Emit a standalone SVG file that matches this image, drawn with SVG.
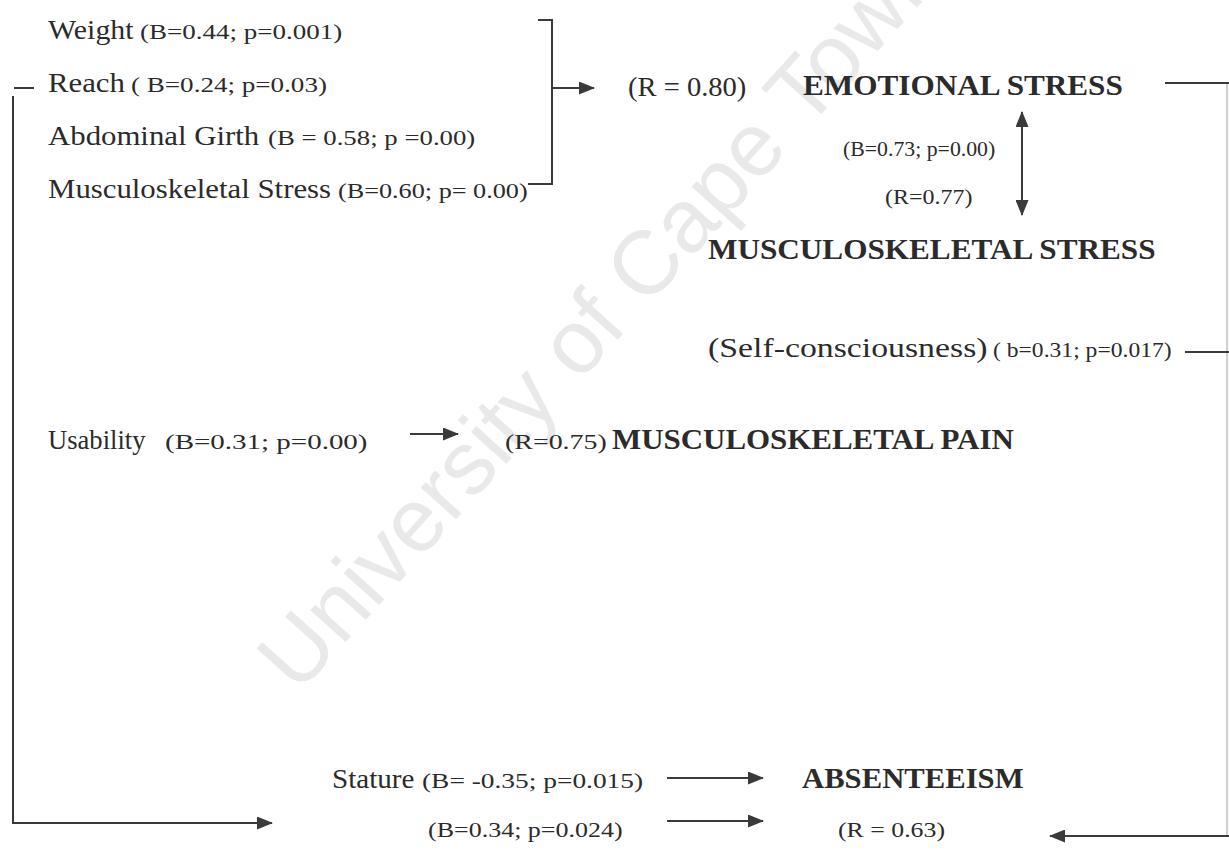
<svg xmlns="http://www.w3.org/2000/svg" width="1229" height="850" viewBox="0 0 1229 850">
<style>
text{font-family:"Liberation Serif","Times New Roman",serif;fill:#2b2b2b}
.m{font-size:28px}
.s{font-size:21px}
.h{font-size:29px;font-weight:bold}
.wm{font-family:"Liberation Sans",Arial,sans-serif;font-size:90px;fill:#e9e9e9}
.ln{fill:none;stroke:#3a3a3a;stroke-width:2}
.fl{fill:none;stroke:#cfcfcf;stroke-width:2}
</style>
<defs>
<marker id="ah" viewBox="0 0 16 13" refX="15" refY="6.5" markerWidth="16" markerHeight="13" markerUnits="userSpaceOnUse" orient="auto-start-reverse">
<path d="M0,0 L16,6.5 L0,13 Z" fill="#3a3a3a"/>
</marker>
</defs>
<rect width="1229" height="850" fill="#ffffff"/>
<text class="wm" x="298" y="695" transform="rotate(-48 298 695)">University of Cape Town</text>

<g id="connectors">
<path class="ln" d="M538,20 H552 V184 H528"/>
<path class="ln" d="M552,88 H594" marker-end="url(#ah)"/>
<path class="ln" d="M1165,83 H1229"/>
<path class="fl" d="M1227,84 V836"/>
<path class="ln" d="M1022,112 V215" marker-start="url(#ah)" marker-end="url(#ah)"/>
<path class="ln" d="M1185,352 H1229"/>
<path class="ln" d="M410,434 H458" marker-end="url(#ah)"/>
<path class="ln" d="M14,88 H34"/>
<path class="ln" d="M13,96 V823 H272" marker-end="url(#ah)"/>
<path class="ln" d="M667,778 H763" marker-end="url(#ah)"/>
<path class="ln" d="M667,821 H763" marker-end="url(#ah)"/>
<path class="ln" d="M1229,836 H1050" marker-end="url(#ah)"/>
</g>

<g id="predictors-emotional">
<text class="m" transform="matrix(1.068 0 0 1 48 39)">Weight</text>
<text class="s" transform="matrix(1.286 0 0 1 140 39)">(B=0.44; p=0.001)</text>
<text class="m" transform="matrix(1.1 0 0 1 48 92)">Reach</text>
<text class="s" transform="matrix(1.29 0 0 1 131 92)">( B=0.24; p=0.03)</text>
<text class="m" transform="matrix(1.1 0 0 1 48 145)">Abdominal Girth</text>
<text class="s" transform="matrix(1.276 0 0 1 268 145)">(B = 0.58; p =0.00)</text>
<text class="m" transform="matrix(1.1 0 0 1 48 198)">Musculoskeletal Stress</text>
<text class="s" transform="matrix(1.248 0 0 1 338 198)">(B=0.60; p= 0.00)</text>
</g>

<g id="emotional-stress">
<text class="m" transform="matrix(1.02 0 0 1 628 96)">(R = 0.80)</text>
<text class="h" transform="matrix(1.076 0 0 1 803 95)">EMOTIONAL STRESS</text>
</g>

<g id="emotional-musculo-link">
<text class="s" transform="matrix(1.038 0 0 1 843 156)">(B=0.73; p=0.00)</text>
<text class="s" transform="matrix(1.143 0 0 1 885 204)">(R=0.77)</text>
</g>

<g id="musculoskeletal-stress">
<text class="h" transform="matrix(1.076 0 0 1 708 259)">MUSCULOSKELETAL STRESS</text>
</g>

<g id="self-consciousness">
<text class="m" transform="matrix(1.207 0 0 1 708 357)">(Self-consciousness)</text>
<text class="s" transform="matrix(1.124 0 0 1 993 357)">( b=0.31; p=0.017)</text>
</g>

<g id="usability">
<text class="m" transform="matrix(0.95 0 0 1 48 449)">Usability</text>
<text class="s" transform="matrix(1.381 0 0 1 165 449)">(B=0.31; p=0.00)</text>
</g>

<g id="musculoskeletal-pain">
<text class="s" transform="matrix(1.33 0 0 1 505 449)">(R=0.75)</text>
<text class="h" transform="matrix(1.067 0 0 1 612 449)">MUSCULOSKELETAL PAIN</text>
</g>

<g id="stature">
<text class="m" transform="matrix(1.04 0 0 1 332 788)">Stature</text>
<text class="s" transform="matrix(1.305 0 0 1 422 788)">(B= -0.35; p=0.015)</text>
</g>

<g id="absenteeism">
<text class="h" transform="matrix(1.058 0 0 1 802 788)">ABSENTEEISM</text>
<text class="s" transform="matrix(1.229 0 0 1 838 837)">(R = 0.63)</text>
</g>

<g id="second-predictor">
<text class="s" transform="matrix(1.238 0 0 1 428 837)">(B=0.34; p=0.024)</text>
</g>
</svg>
